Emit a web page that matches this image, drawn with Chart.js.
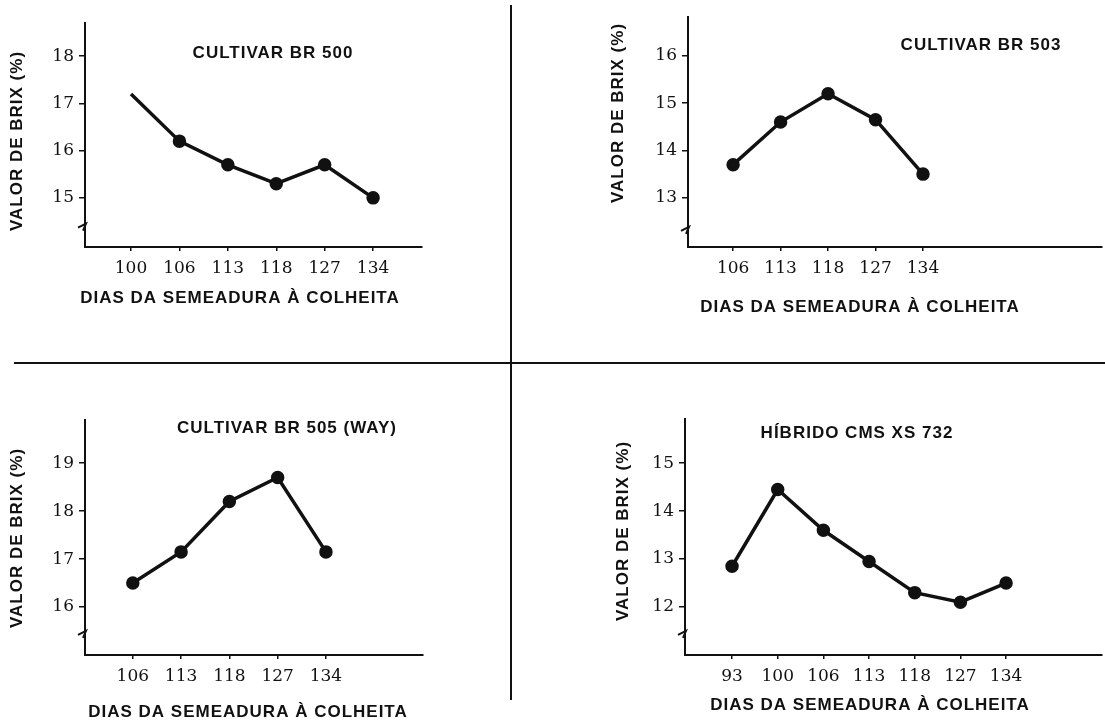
<!DOCTYPE html>
<html>
<head>
<meta charset="utf-8">
<script src="https://cdn.jsdelivr.net/npm/chart.js@4.4.0/dist/chart.umd.min.js"></script>
<style>
    body { margin: 0; background: #fff; }
    .page { position: relative; width: 1105px; height: 720px; overflow: hidden; }
    .page canvas { position: absolute; left: 0; top: 0; }
    .vline { position: absolute; left: 510px; top: 5px; width: 2px; height: 695px; background: #111; }
    .hline { position: absolute; left: 14px; top: 362px; width: 1091px; height: 2px; background: #111; }
</style>
</head>
<body>
<div class="page">
    <canvas id="c500" width="1105" height="720"></canvas>
    <canvas id="c503" width="1105" height="720"></canvas>
    <canvas id="c505" width="1105" height="720"></canvas>
    <canvas id="c732" width="1105" height="720"></canvas>
    <div class="vline"></div>
    <div class="hline"></div>
</div>
<script>
// dados
const days500 = ['100', '106', '113', '118', '127', '134'];
const brix500 = [17.2, 16.2, 15.7, 15.3, 15.7, 15.0];
const yTicks500 = [15, 16, 17, 18];

const days503 = ['106', '113', '118', '127', '134'];
const brix503 = [13.7, 14.6, 15.2, 14.65, 13.5];
const yTicks503 = [13, 14, 15, 16];

const days505 = ['106', '113', '118', '127', '134'];
const brix505 = [16.5, 17.15, 18.2, 18.7, 17.15];
const yTicks505 = [16, 17, 18, 19];

const days732 = ['93', '100', '106', '113', '118', '127', '134'];
const brix732 = [12.85, 14.45, 13.6, 12.95, 12.3, 12.1, 12.5];
const yTicks732 = [12, 13, 14, 15];

const yLabel = 'VALOR DE BRIX (%)';
const xLabel = 'DIAS DA SEMEADURA À COLHEITA';

const INK = '#111';
const TICK_FONT = { family: "'DejaVu Serif', serif", size: 17 };
const BOLD = "bold 17px 'Liberation Sans', Arial, sans-serif";

// textos livres (título, rótulos dos eixos) + quebra do eixo y
const panelText = {
    id: 'panelText',
    afterDraw(chart, args, opts) {
        const ctx = chart.ctx;
        ctx.save();
        ctx.fillStyle = INK;
        ctx.font = BOLD;
        ctx.letterSpacing = '1px';
        ctx.textAlign = 'center';
        ctx.textBaseline = 'middle';
        (opts.items || []).forEach(it => {
            ctx.save();
            ctx.translate(it.x, it.y);
            if (it.rotate) ctx.rotate(-Math.PI / 2);
            ctx.fillText(it.text, 0, 0);
            ctx.restore();
        });
        if (opts.breakAt != null) {
            const y = chart.scales.y.getPixelForValue(opts.breakAt);
            const x = chart.chartArea.left;
            ctx.strokeStyle = INK;
            ctx.lineWidth = 2;
            ctx.beginPath();
            ctx.moveTo(x - 7, y + 1);
            ctx.lineTo(x + 1, y - 3);
            ctx.lineTo(x - 2, y + 4);
            ctx.stroke();
        }
        ctx.restore();
    }
};

function makeChart(id, days, brix, yTicks, box, texts, breakAt, firstDot) {
    const points = brix.map((v, i) => ({ x: i, y: v }));
    return new Chart(document.getElementById(id), {
        type: 'line',
        data: {
            datasets: [{
                data: points,
                borderColor: INK,
                borderWidth: 3.5,
                backgroundColor: INK,
                pointBackgroundColor: INK,
                pointBorderColor: INK,
                pointRadius: ctx => (ctx.dataIndex === 0 && !firstDot) ? 0 : 5,
                tension: 0
            }]
        },
        options: {
            responsive: false,
            animation: false,
            devicePixelRatio: 1,
            events: [],
            layout: {
                autoPadding: false,
                padding: {
                    left: box.left - 40,
                    top: box.top,
                    right: 1105 - box.right,
                    bottom: 720 - box.bottom - 40
                }
            },
            plugins: {
                legend: { display: false },
                tooltip: { enabled: false },
                panelText: { items: texts, breakAt: breakAt }
            },
            scales: {
                x: {
                    type: 'linear',
                    min: box.xMin,
                    max: box.xMax,
                    afterFit: s => { s.height = 40; },
                    afterBuildTicks: s => { s.ticks = days.map((d, i) => ({ value: i })); },
                    ticks: {
                        callback: v => days[v],
                        font: TICK_FONT,
                        color: INK,
                        padding: 7,
                        maxRotation: 0,
                        autoSkip: false
                    },
                    grid: { drawOnChartArea: false, tickLength: 4, color: INK, lineWidth: 1.5 },
                    border: { color: INK, width: 2 }
                },
                y: {
                    min: box.yMin,
                    max: box.yMax,
                    afterFit: s => { s.width = 40; },
                    afterBuildTicks: s => { s.ticks = yTicks.map(v => ({ value: v })); },
                    ticks: { font: TICK_FONT, color: INK, padding: 5 },
                    grid: { drawOnChartArea: false, tickLength: 6, color: INK, lineWidth: 1.5 },
                    border: { color: INK, width: 2 }
                }
            }
        },
        plugins: [panelText]
    });
}

makeChart('c500', days500, brix500, yTicks500,
    { left: 85, top: 23, right: 422, bottom: 247, xMin: -0.95, xMax: 6.01, yMin: 13.96, yMax: 18.7 },
    [
        { text: 'CULTIVAR BR 500', x: 273, y: 53 },
        { text: yLabel, x: 17, y: 141, rotate: true },
        { text: xLabel, x: 240, y: 298 }
    ], 14.39, false);

makeChart('c503', days503, brix503, yTicks503,
    { left: 688, top: 17, right: 1102, bottom: 247, xMin: -0.95, xMax: 7.77, yMin: 11.96, yMax: 16.82 },
    [
        { text: 'CULTIVAR BR 503', x: 981, y: 45 },
        { text: yLabel, x: 618, y: 113, rotate: true },
        { text: xLabel, x: 860, y: 307 }
    ], 12.32, true);

makeChart('c505', days505, brix505, yTicks505,
    { left: 85, top: 420, right: 423, bottom: 655, xMin: -0.99, xMax: 6.01, yMin: 15.0, yMax: 19.9 },
    [
        { text: 'CULTIVAR BR 505 (WAY)', x: 287, y: 428 },
        { text: yLabel, x: 17, y: 538, rotate: true },
        { text: xLabel, x: 248, y: 712 }
    ], 15.44, true);

makeChart('c732', days732, brix732, yTicks732,
    { left: 685, top: 419, right: 1102, bottom: 655, xMin: -1.03, xMax: 8.1, yMin: 11.0, yMax: 15.92 },
    [
        { text: 'HÍBRIDO CMS XS 732', x: 857, y: 433 },
        { text: yLabel, x: 623, y: 531, rotate: true },
        { text: xLabel, x: 870, y: 705 }
    ], 11.44, true);
</script>
</body>
</html>
